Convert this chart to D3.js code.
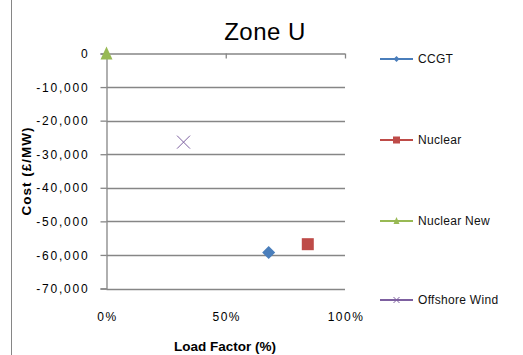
<!DOCTYPE html>
<html>
<head>
<meta charset="utf-8">
<script src="https://cdn.jsdelivr.net/npm/d3@7"></script>
<style>
  body { margin: 0; background: #fff; }
  svg { display: block; font-family: 'Liberation Sans', Arial, sans-serif; }
</style>
</head>
<body>
<div id="chart"></div>
<script>
const SERIES      = ['CCGT', 'Nuclear', 'Nuclear New', 'Offshore Wind'];
const LOAD_FACTOR = [0.68, 0.844, 0.0, 0.323];
const COST        = [-59300, -56800, 0, -26400];
const COLORS      = ['#4a7ebb', '#be4b48', '#98b954', '#7d60a0'];
const SHAPES      = ['diamond', 'square', 'triangle', 'cross'];
const Y_TICKS     = [0, -10000, -20000, -30000, -40000, -50000, -60000, -70000];
const X_TICKS     = [0, 0.5, 1];

const W = 523, H = 355;
const GRID = '#868686';

const svg = d3.select('#chart').append('svg').attr('width', W).attr('height', H);

// left edge of the chart frame
svg.append('line').attr('x1', 11.5).attr('x2', 11.5).attr('y1', 0).attr('y2', H)
    .attr('stroke', GRID).attr('stroke-width', 1);

const x = d3.scaleLinear().domain([0, 1]).range([106.5, 345]);
const y = d3.scaleLinear().domain([-70000, 0]).range([288.5, 53.5]);

// gridlines
svg.append('g').selectAll('line').data(Y_TICKS.filter(v => v !== 0)).enter().append('line')
    .attr('x1', x(0)).attr('x2', x(1))
    .attr('y1', d => Math.round(y(d)) + 0.5).attr('y2', d => Math.round(y(d)) + 0.5)
    .attr('stroke', GRID).attr('stroke-width', 1.3);

// y axis
const yAxis = svg.append('g').attr('transform', `translate(${x(0)},0)`)
    .call(d3.axisLeft(y).tickValues(Y_TICKS).tickSize(6).tickPadding(11)
        .tickFormat(d => d3.format(',')(d).replace('−', '-')));
yAxis.selectAll('.domain, .tick line').attr('stroke', GRID).attr('stroke-width', 1.3);
yAxis.selectAll('.tick text').attr('fill', '#000').style('font-size', '12px')
    .style('letter-spacing', '1.8px').attr('dy', '0.35em');

// x axis (crosses at 0, ticks drawn downward, labels at the bottom)
const xAxis = svg.append('g').attr('transform', `translate(0,${y(0)})`)
    .call(d3.axisBottom(x).tickValues(X_TICKS).tickSize(5).tickFormat(''));
xAxis.selectAll('.domain, .tick line').attr('stroke', GRID).attr('stroke-width', 1.3);
xAxis.select('.domain').attr('d', `M${x(0)},0.5H${x(1)}`);

svg.append('g').selectAll('text').data(X_TICKS).enter().append('text')
    .attr('x', d => x(d) + 1).attr('y', 321)
    .attr('text-anchor', 'middle').style('font-size', '12px').style('letter-spacing', '1.5px')
    .text(d => d3.format('.0%')(d));

// titles
svg.append('text').attr('x', 265).attr('y', 40).attr('text-anchor', 'middle')
    .style('font-size', '24px').style('letter-spacing', '0.5px').text('Zone U');

svg.append('text').attr('x', 225).attr('y', 351).attr('text-anchor', 'middle')
    .style('font-size', '13.5px').style('font-weight', 'bold').text('Load Factor (%)');

svg.append('text').attr('transform', 'translate(31,171) rotate(-90)').attr('text-anchor', 'middle')
    .style('font-size', '13.5px').style('font-weight', 'bold').style('letter-spacing', '1px')
    .text('Cost (£/MW)');

function marker(g, shape, color, size) {
    const s = size / 2;
    if (shape === 'cross') {
        g.append('path').attr('d', `M${-s},${-s}L${s},${s}M${-s},${s}L${s},${-s}`)
            .attr('stroke', color).attr('stroke-width', 1).attr('fill', 'none');
    } else if (shape === 'diamond') {
        g.append('path').attr('d', `M0,${-s}L${s},0L0,${s}L${-s},0Z`).attr('fill', color);
    } else if (shape === 'square') {
        g.append('rect').attr('x', -s).attr('y', -s).attr('width', size).attr('height', size)
            .attr('fill', color);
    } else {
        g.append('path').attr('d', `M0,${-s - 1}L${s},${s}L${-s},${s}Z`).attr('fill', color);
    }
}

// points
SERIES.forEach((name, i) => {
    const g = svg.append('g')
        .attr('transform', `translate(${x(LOAD_FACTOR[i])},${y(COST[i])})`);
    marker(g, SHAPES[i], COLORS[i], SHAPES[i] === 'cross' ? 13 : SHAPES[i] === 'diamond' ? 13 : 12);
});

// legend
const LEGEND_Y = [59, 140, 221, 300];
SERIES.forEach((name, i) => {
    const lg = svg.append('g').attr('transform', `translate(380,${LEGEND_Y[i]})`);
    lg.append('line').attr('x1', 0).attr('x2', 33).attr('y1', 0).attr('y2', 0)
        .attr('stroke', COLORS[i]).attr('stroke-width', 2);
    const m = lg.append('g').attr('transform', 'translate(16.5,0)');
    marker(m, SHAPES[i], COLORS[i], SHAPES[i] === 'square' ? 7 : 6);
    lg.append('text').attr('x', 38).attr('y', 0).attr('dy', '0.35em')
        .style('font-size', '12px').style('letter-spacing', '0.3px').attr('fill', '#111').text(name);
});
</script>
</body>
</html>
